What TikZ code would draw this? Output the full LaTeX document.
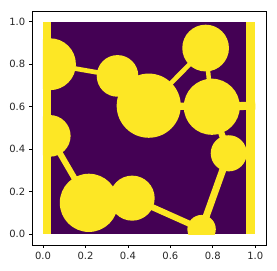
\documentclass[tikz,border=0pt]{standalone}
\usepackage{fontspec}
\setmainfont{DejaVu Sans}
\definecolor{vpurple}{HTML}{440154}
\definecolor{vyellow}{HTML}{FDE725}
\tikzset{
  blob/.style={fill=vyellow},
  link/.style={draw=vyellow, line width={#1*212.4pt}},
  spine/.style={draw=black, line width=0.8pt},
  tickmark/.style={draw=black, line width=0.8pt},
  ticklabel/.style={inner sep=0pt, font=\fontsize{10}{12}\selectfont, text=black!85}
}
\begin{document}
\begin{tikzpicture}[x=212.3pt, y=212.6pt]
\useasboundingbox (-43pt,-36.7pt) rectangle (234pt,234.3pt);
% centres
\coordinate (c1) at (0.033,0.800);
\coordinate (c2) at (0.351,0.745);
\coordinate (c3) at (0.498,0.605);
\coordinate (c4) at (0.766,0.876);
\coordinate (c5) at (0.795,0.600);
\coordinate (c6) at (0.875,0.381);
\coordinate (c7) at (0.032,0.463);
\coordinate (c8) at (0.216,0.148);
\coordinate (c9) at (0.420,0.170);
\coordinate (c10) at (0.747,0.024);
\coordinate (edge) at (1.0,0.605);
\begin{scope}
\clip (0,0) rectangle (1,1);
\fill[vpurple] (0,0) rectangle (1,1);
% strips
\fill[blob] (0,0) rectangle (0.038,1);
\fill[blob] (0.958,0) rectangle (1,1);
% links
\draw[link=0.022] (c1) -- (c2);
\draw[link=0.025] (c2) -- (c3);
\draw[link=0.022] (c3) -- (c4);
\draw[link=0.021] (c4) -- (c5);
\draw[link=0.034] (c3) -- (c5);
\draw[link=0.038] (c5) -- (edge);
\draw[link=0.03] (c5) -- (c6);
\draw[link=0.033] (c6) -- (c10);
\draw[link=0.029] (c9) -- (c10);
\draw[link=0.028] (c7) -- (c8);
\draw[link=0.03] (c8) -- (c9);
% circles
\fill[blob] (c1) circle (0.122);
\fill[blob] (c2) circle (0.098);
\fill[blob] (c3) circle (0.151);
\fill[blob] (c4) circle (0.110);
\fill[blob] (c5) circle (0.132);
\fill[blob] (c6) circle (0.085);
\fill[blob] (c7) circle (0.098);
\fill[blob] (c8) circle (0.137);
\fill[blob] (c9) circle (0.106);
\fill[blob] (c10) circle (0.067);
\end{scope}
% axes
\draw[spine] (-0.05,-0.05) rectangle (1.05,1.05);
\foreach \v/\t [count=\i] in {0/0.0,0.2/0.2,0.4/0.4,0.6/0.6,0.8/0.8,1/1.0}{
  \draw[tickmark] (\v,-0.05) -- ++(0,-3.5pt);
  \node[ticklabel, anchor=north] (xl\i) at ([yshift=-7pt]\v,-0.05) {\t};
  \draw[tickmark] (-0.05,\v) -- ++(-3.5pt,0);
  \node[ticklabel, anchor=east] (yl\i) at ([xshift=-7pt]-0.05,\v) {\t};
}
\end{tikzpicture}
\end{document}
